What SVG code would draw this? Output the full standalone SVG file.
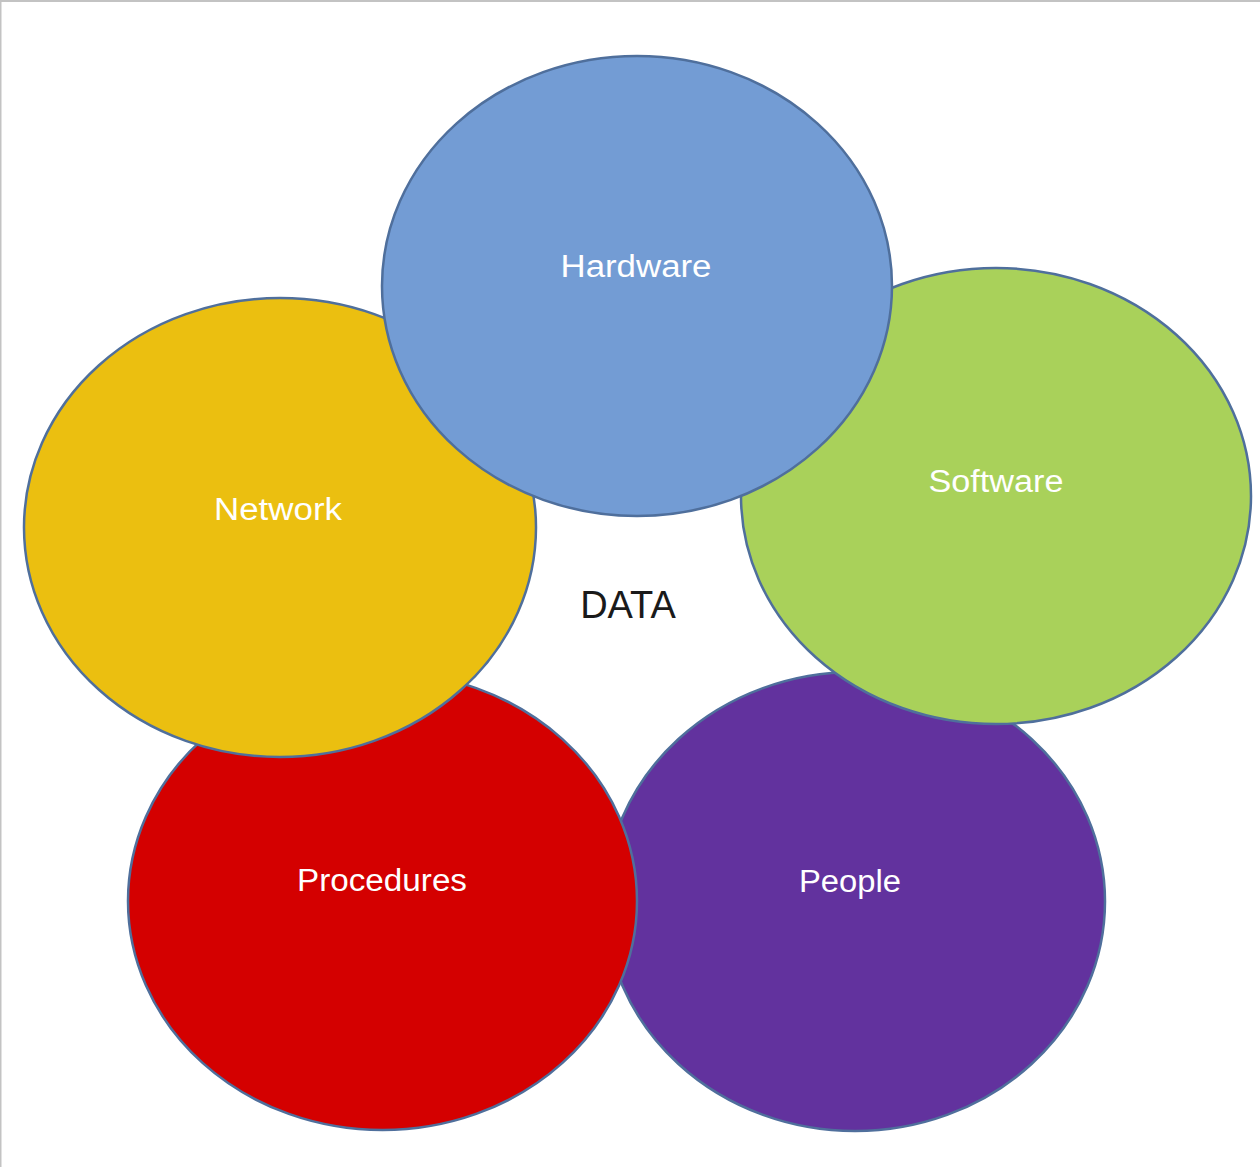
<svg xmlns="http://www.w3.org/2000/svg" width="1260" height="1167" viewBox="0 0 1260 1167">
  <style>
    .node ellipse { stroke: #4F6F9C; stroke-width: 2.5; }
    .lbl { font-family: "Liberation Sans", Arial, sans-serif; font-size: 31px; fill: #FFFFFF; text-anchor: middle; }
    .center { font-family: "Liberation Sans", Arial, sans-serif; font-size: 38px; fill: #1A1A1A; text-anchor: middle; }
  </style>
  <rect x="0" y="0" width="1260" height="1167" fill="#FFFFFF"/>
  <rect x="0" y="0" width="1260" height="2" fill="#C3C3C3"/>
  <rect x="0" y="0" width="1.5" height="1167" fill="#C3C3C3"/>
  <g id="connectors"></g>
  <g id="people" class="node">
    <ellipse cx="855" cy="901.5" rx="250" ry="229.5" fill="#62329E"/>
    <text class="lbl" x="850" y="892" textLength="102" lengthAdjust="spacingAndGlyphs">People</text>
  </g>
  <g id="procedures" class="node">
    <ellipse cx="382.5" cy="901" rx="254.5" ry="229" fill="#D40000"/>
    <text class="lbl" x="382" y="891" textLength="170" lengthAdjust="spacingAndGlyphs">Procedures</text>
  </g>
  <g id="network" class="node">
    <ellipse cx="280" cy="527.5" rx="256" ry="229.5" fill="#EBBF10"/>
    <text class="lbl" x="278" y="520" textLength="128" lengthAdjust="spacingAndGlyphs">Network</text>
  </g>
  <g id="software" class="node">
    <ellipse cx="996" cy="496" rx="255" ry="228" fill="#A9D15A"/>
    <text class="lbl" x="996" y="492" textLength="135" lengthAdjust="spacingAndGlyphs">Software</text>
  </g>
  <g id="hardware" class="node">
    <ellipse cx="637" cy="286" rx="255" ry="230" fill="#739CD4"/>
    <text class="lbl" x="636" y="277" textLength="151" lengthAdjust="spacingAndGlyphs">Hardware</text>
  </g>
  <g id="data">
    <text class="center" x="628" y="618">DATA</text>
  </g>
</svg>
